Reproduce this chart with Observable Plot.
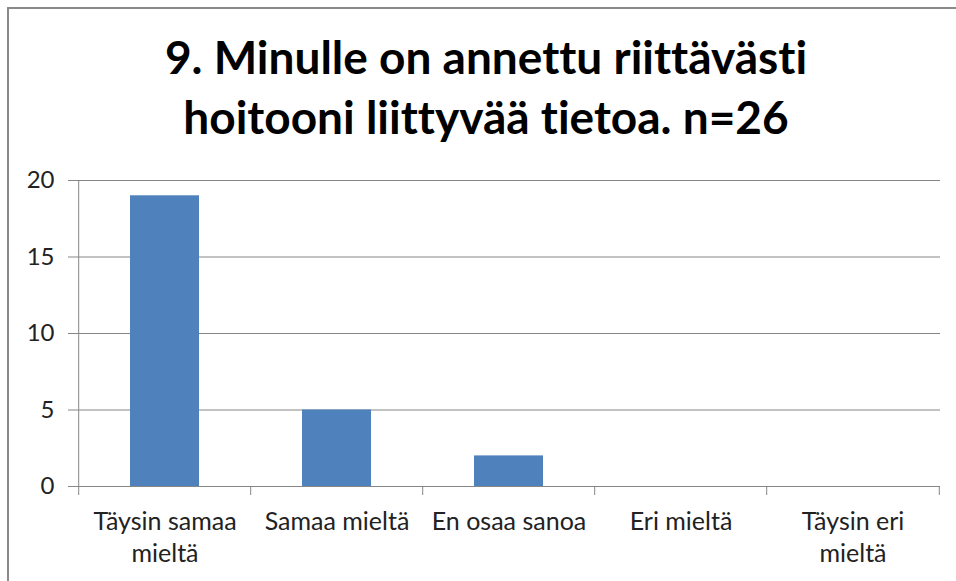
<!DOCTYPE html>
<html>
<head>
<meta charset="utf-8">
<script src="https://cdn.jsdelivr.net/npm/d3@7"></script>
<script src="https://cdn.jsdelivr.net/npm/@observablehq/plot@0.6"></script>
<style>
  html, body { margin: 0; padding: 0; background: #fff; }
  #wrap { position: relative; width: 956px; height: 581px; overflow: hidden; background: #fff; font-variant-ligatures: none; font-feature-settings: "liga" 0, "clig" 0; }
  #border { position: absolute; left: 7px; top: 7px; width: 1000px; height: 1000px; border-left: 2px solid #8a8a8a; border-top: 2px solid #8a8a8a; z-index: 2; pointer-events: none; }
  #title { position: absolute; left: 8px; top: 27px; width: 956px; text-align: center; font-family: Lato, sans-serif; font-weight: bold; font-size: 46px; line-height: 60px; color: #000; }
  #chart { position: absolute; left: 0; top: 160px; }
  #chart svg text { font-variant-ligatures: none; font-feature-settings: "liga" 0, "clig" 0; }
</style>
</head>
<body>
<div id="wrap">
  <div id="border"></div>
  <div id="title">9. Minulle on annettu riittävästi<br>hoitooni liittyvää tietoa. n=26</div>
  <div id="chart"></div>
</div>
<script>
const categories = ["Täysin samaa mieltä", "Samaa mieltä", "En osaa sanoa", "Eri mieltä", "Täysin eri mieltä"];
const values = [19, 5, 2, 0, 0];
const tickLabels = ["Täysin samaa\nmieltä", "Samaa mieltä", "En osaa sanoa", "Eri mieltä", "Täysin eri\nmieltä"];
const yTicks = [0, 5, 10, 15, 20];

const data = categories.map((c, i) => ({category: c, value: values[i]}));
const labelOf = new Map(categories.map((c, i) => [c, tickLabels[i]]));

const width = 956, height = 421;
const marginLeft = 77, marginRight = 16, marginTop = 20, marginBottom = 95;
const step = (width - marginLeft - marginRight) / categories.length;
const gray = "#868686";

const chart = Plot.plot({
  width, height, marginLeft, marginRight, marginTop, marginBottom,
  style: {fontFamily: "Lato, sans-serif", fontSize: "24px", color: "#222", background: "transparent"},
  x: {domain: categories, paddingInner: 0.6, paddingOuter: 0.3, label: null},
  y: {domain: [0, 20], ticks: yTicks, label: null},
  marks: [
    Plot.gridY(yTicks, {stroke: gray, strokeOpacity: 1}),
    Plot.axisY(yTicks, {tickSize: 9, tickPadding: 14, stroke: gray, strokeOpacity: 1, fill: "#222", fontSize: 24}),
    Plot.barY(data, {x: "category", y: "value", fill: "#4F81BD"}),
    Plot.ruleY([0], {stroke: gray}),
    Plot.ruleX([categories[0]], {x: d => d, dx: -step / 2, y1: 0, y2: 20, stroke: gray}),
    Plot.axisX(categories, {tickSize: 9, dx: -step / 2, tickFormat: () => "", stroke: gray, strokeOpacity: 1}),
    Plot.axisX([categories[categories.length - 1]], {tickSize: 9, dx: step / 2, tickFormat: () => "", stroke: gray, strokeOpacity: 1}),
    Plot.axisX(categories, {tickSize: 0, tickPadding: 20, tickFormat: d => labelOf.get(d), lineHeight: 1.3, fill: "#222", fontSize: 25})
  ]
});
document.getElementById("chart").appendChild(chart);
</script>
</body>
</html>
